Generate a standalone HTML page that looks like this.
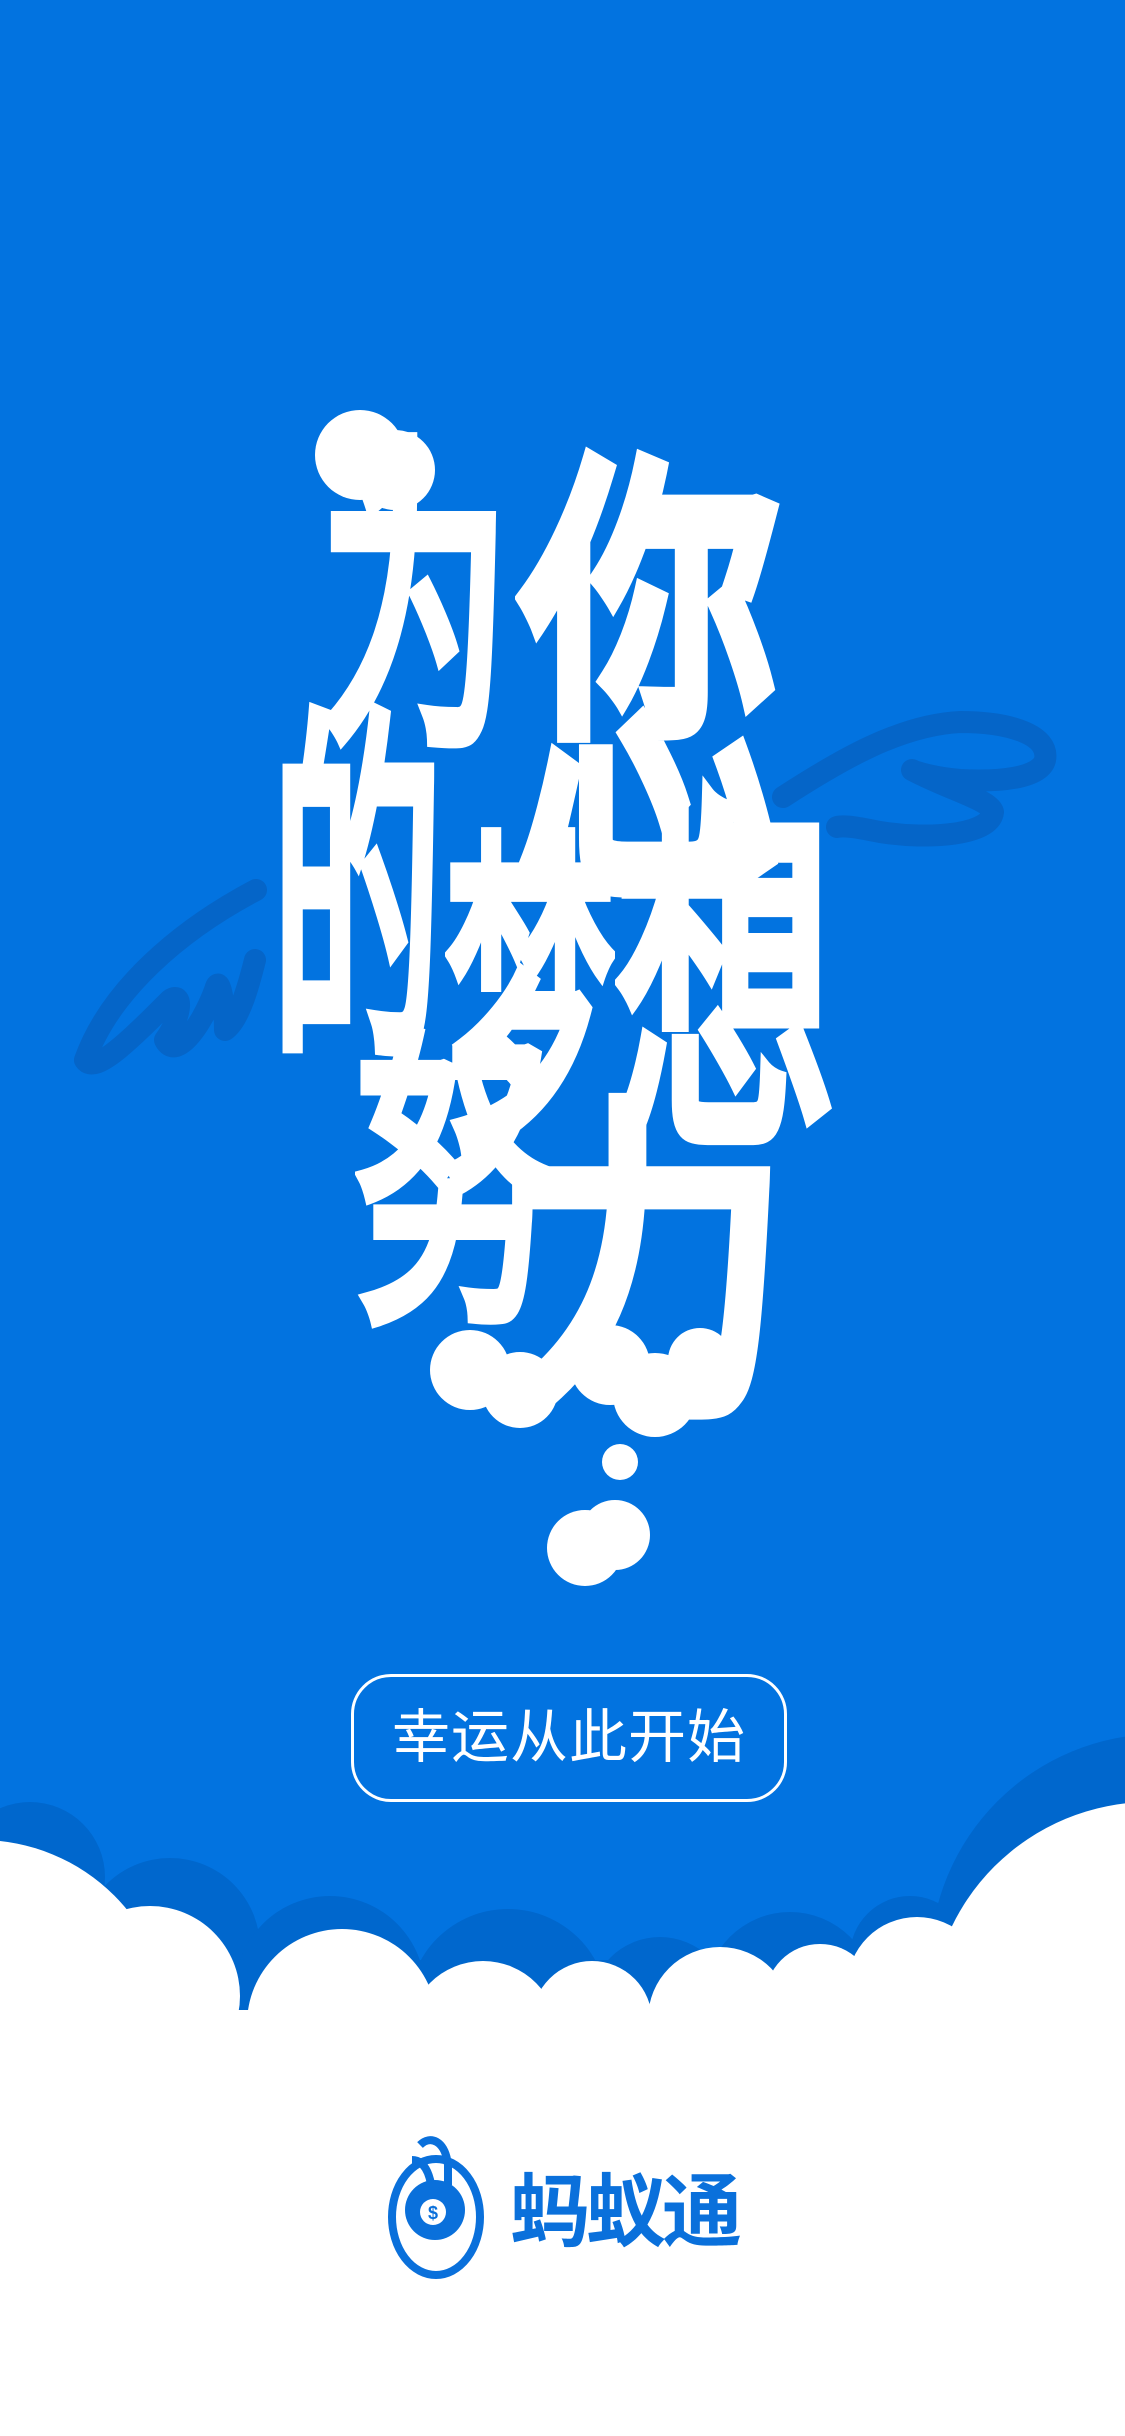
<!DOCTYPE html>
<html><head><meta charset="utf-8">
<style>
html,body{margin:0;padding:0}
body{width:1125px;height:2436px;position:relative;overflow:hidden;background:#0273e0;font-family:"Liberation Sans","Noto Sans CJK SC",sans-serif}
.g{position:absolute;color:#fff;font-family:"Noto Sans CJK SC","WenQuanYi Zen Hei",sans-serif;font-weight:400;font-size:100px;line-height:100px;width:100px;height:100px;text-align:center;transform-origin:0 0;-webkit-text-stroke:5px #fff}
svg{position:absolute;left:0;top:0}
</style></head><body>
<svg width="1125" height="2436">
 <g fill="none" stroke="#0565c8" stroke-width="22" stroke-linecap="round" stroke-linejoin="round">
  <path d="M256,890 C180,930 110,990 85,1060 C95,1075 130,1040 170,1000 C185,990 180,1020 165,1040 C175,1060 200,1030 215,990 C220,970 225,1010 225,1030 C240,1020 250,980 255,960"/>
  <path d="M783,797 C840,760 900,725 960,722 C1010,722 1050,735 1045,760 C1040,778 1000,782 960,780 C935,778 915,772 912,770 C950,790 990,800 993,812 C990,835 930,840 880,832 C860,828 845,825 837,827"/>
 </g>
 <g fill="#0067cd">
  <circle cx="30" cy="1877" r="75"/><circle cx="170" cy="1948" r="90"/><circle cx="330" cy="1991" r="95"/>
  <circle cx="508" cy="2009" r="100"/><circle cx="660" cy="2007" r="70"/><circle cx="790" cy="1997" r="85"/>
  <circle cx="910" cy="1956" r="60"/><circle cx="1160" cy="1964" r="230"/><rect x="0" y="1960" width="1125" height="80"/>
 </g>
 <g fill="#fff">
  <circle cx="-20" cy="2030" r="190"/><circle cx="150" cy="1996" r="90"/><circle cx="342" cy="2024" r="95"/>
  <circle cx="483" cy="2036" r="75"/><circle cx="592" cy="2021" r="60"/><circle cx="720" cy="2019" r="72"/>
  <circle cx="820" cy="1999" r="55"/><circle cx="917" cy="1987" r="70"/><circle cx="1150" cy="2022" r="220"/>
  <rect x="0" y="2010" width="1125" height="426"/>
 </g>
 <g fill="#fff">
  <circle cx="470" cy="1370" r="40"/><circle cx="520" cy="1390" r="38"/><circle cx="610" cy="1365" r="40"/>
  <circle cx="655" cy="1395" r="42"/><circle cx="700" cy="1360" r="32"/><circle cx="620" cy="1462" r="18"/>
  <circle cx="585" cy="1548" r="38"/><circle cx="615" cy="1535" r="35"/><circle cx="360" cy="455" r="45"/><circle cx="395" cy="470" r="40"/>
 </g>
</svg>
<div class="g" style="left:320px;top:410px;transform:scale(1.9,3.3)">为</div>
<div class="g" style="left:515px;top:420px;transform:scale(2.7,4.7)">您</div>
<div class="g" style="left:272px;top:680px;transform:scale(1.7,3.7)">的</div>
<div class="g" style="left:445px;top:805px;transform:scale(1.7,3.4)">梦</div>
<div class="g" style="left:615px;top:780px;transform:scale(2.2,3.6)">想</div>
<div class="g" style="left:355px;top:1005px;transform:scale(1.95,3.1)">努</div>
<div class="g" style="left:495px;top:1070px;transform:scale(2.95,3.4)">力</div>

<div style="position:absolute;left:351px;top:1674px;width:430px;height:122px;border:3px solid #fff;border-radius:40px;color:#fff;font-family:'Liberation Sans','Noto Sans CJK SC',sans-serif;font-size:58px;line-height:122px;text-align:center;letter-spacing:1px">幸运从此开始</div>

<svg width="1125" height="2436" style="pointer-events:none">
 <g fill="none" stroke="#0a70db" stroke-width="8">
  <ellipse cx="436" cy="2217" rx="44" ry="58"/>
  <path d="M420,2145 C430,2135 445,2140 448,2165 L448,2185"/>
  <path d="M412,2160 C425,2160 430,2175 432,2190"/>
 </g>
 <circle cx="435" cy="2210" r="30" fill="#0a70db"/>
 <circle cx="433" cy="2212" r="13" fill="#fff"/>
 <text x="433" y="2219" font-size="18" font-weight="bold" fill="#0a70db" text-anchor="middle" font-family="Liberation Sans, sans-serif">$</text>
</svg>
<div style="position:absolute;left:510px;top:2160px;width:240px;font-family:'Liberation Sans','Noto Sans CJK SC',sans-serif;font-size:80px;line-height:106px;color:#0a70db;letter-spacing:-4px;font-weight:bold">蚂蚁通</div>
</body></html>
